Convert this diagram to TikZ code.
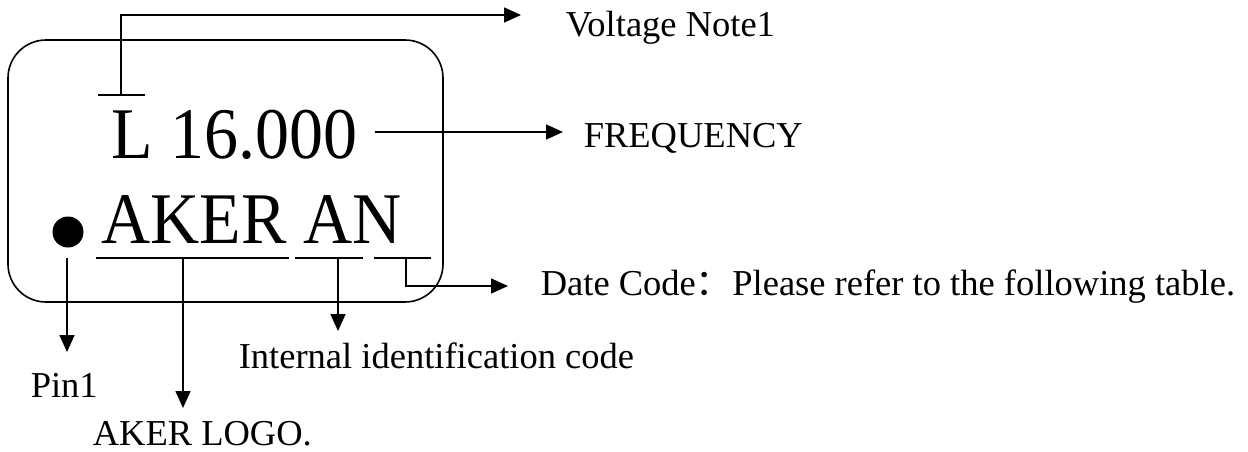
\documentclass[tikz,border=0pt]{standalone}
\usepackage{fontspec}
\setmainfont{Liberation Serif}
\newfontfamily\cjk{Noto Sans CJK SC}
\usetikzlibrary{arrows.meta}
\begin{document}
\begin{tikzpicture}[x=1pt,y=-1pt,
  line width=1.6pt,
  big/.style={inner sep=0pt,anchor=base west,font=\fontsize{68}{68}\selectfont},
  lbl/.style={inner sep=0pt,anchor=base west,font=\fontsize{36.5}{40}\selectfont},
  arr/.style={-{Triangle[length=17pt,width=15pt]}},
  mark line/.style={line width=1.8pt}]
\useasboundingbox (0,0) rectangle (1248,451);
% chip outline
\draw[rounded corners=38pt] (8,40) rectangle (443,302);
% main texts
\node[big] (freq) at (111,158) {\scalebox{1}[1.07]{L 16.000}};
\node[big] (logo) at (101,243) {\scalebox{1}[1.07]{AKER AN}};
\coordinate (dot) at (68,232);
\fill (dot) circle[radius=15.5pt];
% marks
\coordinate (ovl) at (98,95);  \coordinate (ovr) at (145,95);
\coordinate (u1l) at (96,258); \coordinate (u1r) at (289,258);
\coordinate (u2l) at (295,258); \coordinate (u2r) at (363,258);
\coordinate (u3l) at (374,258); \coordinate (u3r) at (431,258);
\draw[mark line] (ovl) -- (ovr);
\draw[mark line] (u1l) -- (u1r);
\draw[mark line] (u2l) -- (u2r);
\draw[mark line] (u3l) -- (u3r);
% labels
\node[lbl] (volt) at (565,36) {Voltage Note1};
\node[lbl] (freqlbl) at (583,147) {FREQUENCY};
\node[lbl] (date) at (540,295) {Date Code{\cjk ：}Please refer to the following table.};
\node[lbl] (internal) at (238,368) {Internal identification code};
\node[lbl] (pin) at (30,397) {Pin1};
\node[lbl] (akerlogo) at (92,445) {AKER LOGO.};
% connector endpoints
\coordinate (vs) at (121,94);
\coordinate (vc) at (121,15);
\coordinate (vt) at (521,15);
\coordinate (fs) at (375,132);
\coordinate (ft) at (563,132);
\coordinate (ds) at (406,258);
\coordinate (dc) at (406,286);
\coordinate (dt) at (508,286);
\coordinate (ps) at (67,258);
\coordinate (pt) at (67,352);
\coordinate (ls) at (183,258);
\coordinate (lt) at (183,408);
\coordinate (is) at (338,258);
\coordinate (it) at (338,331);
% connectors
\draw[arr] (vs) -- (vc) -- (vt);
\draw[arr] (fs) -- (ft);
\draw[arr] (ds) -- (dc) -- (dt);
\draw[arr] (ps) -- (pt);
\draw[arr] (ls) -- (lt);
\draw[arr] (is) -- (it);
\end{tikzpicture}
\end{document}
